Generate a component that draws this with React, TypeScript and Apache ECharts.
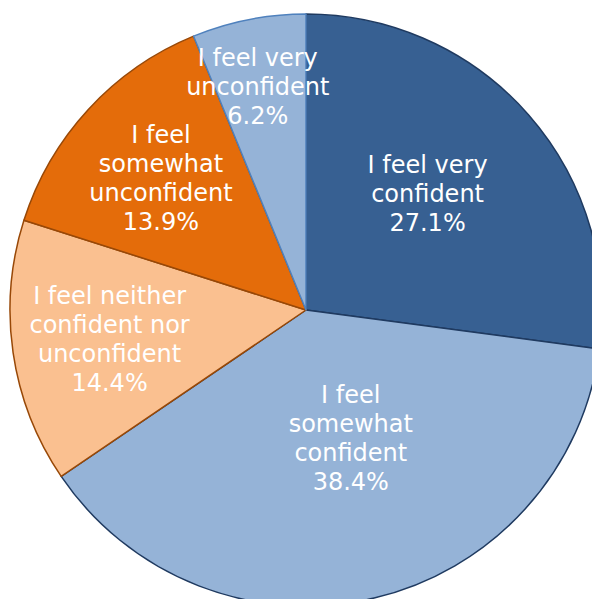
import React, { useEffect, useRef } from "react";
import * as echarts from "echarts";

const categories = [
  "I feel very\nconfident",
  "I feel\nsomewhat\nconfident",
  "I feel neither\nconfident nor\nunconfident",
  "I feel\nsomewhat\nunconfident",
  "I feel very\nunconfident",
];
const values = [27.1, 38.4, 14.4, 13.9, 6.2];
const fillColors = ["#376092", "#95B3D7", "#FAC090", "#E46C0A", "#95B3D7"];
const borderColors = ["#1F3A60", "#1F3A60", "#984807", "#984807", "#4F81BD"];
const labelShiftX = [8, 10, -47, -34, -19];
const labelShiftY = [-16, -18, 8, -29, -75];

export default function App() {
  const ref = useRef<HTMLDivElement>(null);
  useEffect(() => {
    if (!ref.current) return;
    const chart = echarts.init(ref.current, null, { renderer: "svg" });
    chart.setOption({
      animation: false,
      series: [
        {
          type: "pie",
          center: [306, 310],
          radius: [0, 296],
          startAngle: 90,
          clockwise: true,
          avoidLabelOverlap: false,
          data: categories.map((name, i) => ({
            name,
            value: values[i],
            itemStyle: {
              color: fillColors[i],
              borderColor: borderColors[i],
              borderWidth: 1.5,
            },
          })),
          label: {
            show: true,
            position: "inside",
            color: "#ffffff",
            fontFamily: "DejaVu Sans, Verdana, sans-serif",
            fontSize: 24,
            lineHeight: 29,
            align: "center",
            formatter: (p: any) => `${p.name}\n${p.value.toFixed(1)}%`,
          },
          labelLine: { show: false },
          labelLayout: (p: any) => ({
            dx: labelShiftX[p.dataIndex],
            dy: labelShiftY[p.dataIndex],
          }),
          emphasis: { disabled: true },
        },
      ],
    });
    return () => chart.dispose();
  }, []);
  return (
    <div
      ref={ref}
      style={{ position: "fixed", left: 0, top: 0, width: 592, height: 599, background: "#ffffff" }}
    />
  );
}
